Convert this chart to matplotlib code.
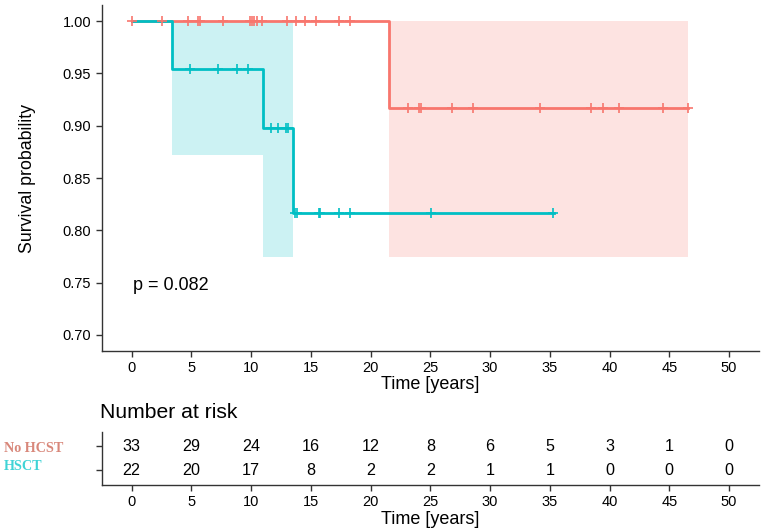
import numpy as np
import matplotlib.pyplot as plt

plt.rcParams['font.family'] = ['Liberation Sans', 'DejaVu Sans']

RED = '#F8766D'
TEAL = '#00BFC4'

# Kaplan-Meier steps
red_t = [0, 21.58, 46.58]
red_s = [1.0, 0.9167, 0.9167]
teal_t = [0, 3.39, 10.97, 13.53, 35.33]
teal_s = [1.0, 0.9545, 0.898, 0.8165, 0.8165]

# confidence bands
red_ci_t = [21.58, 46.58]
red_ci_lo = [0.775, 0.775]
red_ci_hi = [1.0, 1.0]
teal_ci_t = [3.39, 10.97, 13.53]
teal_ci_lo = [0.872, 0.775, 0.775]
teal_ci_hi = [1.0, 1.0, 1.0]

# censoring marks
red_cens_t = [0, 2.56, 4.69, 5.55, 5.75, 7.69, 9.92, 10.08, 10.25, 10.47, 10.94,
              12.97, 13.75, 14.47, 15.47, 17.36, 18.31,
              23.17, 24.05, 24.2, 26.8, 28.6, 34.14, 38.44, 39.42, 40.8, 44.44, 46.58]
teal_cens_t = [4.86, 7.25, 8.8, 9.72, 11.64, 12.28, 12.92, 13.11,
               13.67, 13.86, 15.7, 15.8, 17.36, 18.25, 25.06, 35.25]

# number at risk
risk_times = [0, 5, 10, 15, 20, 25, 30, 35, 40, 45, 50]
risk_red = [33, 29, 24, 16, 12, 8, 6, 5, 3, 1, 0]
risk_teal = [22, 20, 17, 8, 2, 2, 1, 1, 0, 0, 0]
groups = ['No HCST', 'HSCT']


def surv_at(times, surv, t):
    idx = np.searchsorted(times, t, side='right') - 1
    return np.asarray(surv)[idx]


def style_axis(ax):
    for s in ['top', 'right']:
        ax.spines[s].set_visible(False)
    for s in ['left', 'bottom']:
        ax.spines[s].set_color('#333333')
        ax.spines[s].set_linewidth(1.0)
    ax.tick_params(colors='#333333', labelcolor='black', labelsize=10.5,
                   length=4, width=1.0, direction='out')


fig = plt.figure(figsize=(7.62, 5.32), dpi=100)
ax = fig.add_axes([0.1335, 0.3408, 0.8625, 0.6492])

ax.fill_between(red_ci_t, red_ci_lo, red_ci_hi, step='post', color=RED, alpha=0.2, lw=0)
ax.fill_between(teal_ci_t, teal_ci_lo, teal_ci_hi, step='post', color=TEAL, alpha=0.2, lw=0)

ax.step(red_t, red_s, where='post', color=RED, lw=2.0)
ax.step(teal_t, teal_s, where='post', color=TEAL, lw=2.0)

ax.plot(red_cens_t, surv_at(red_t, red_s, red_cens_t), '+', color=RED, ms=7, mew=1.2)
ax.plot(teal_cens_t, surv_at(teal_t, teal_s, teal_cens_t), '+', color=TEAL, ms=7, mew=1.2)

ax.text(0.1, 0.7475, 'p = 0.082', fontsize=13, va='center', ha='left')

ax.set_xlim(-2.5, 52.5)
ax.set_ylim(0.685, 1.015)
ax.set_xticks(risk_times)
ax.set_yticks([0.70, 0.75, 0.80, 0.85, 0.90, 0.95, 1.00])
ax.set_yticklabels(['%.2f' % v for v in ax.get_yticks()])
ax.set_xlabel('Time [years]', fontsize=13, labelpad=1)
ax.set_ylabel('Survival probability', fontsize=12.8, labelpad=19)
style_axis(ax)

# risk table
tab = fig.add_axes([0.1335, 0.0883, 0.8625, 0.1002])
for i, t in enumerate(risk_times):
    tab.text(t, 2, str(risk_red[i]), ha='center', va='center', fontsize=11.6)
    tab.text(t, 1, str(risk_teal[i]), ha='center', va='center', fontsize=11.6)
tab.set_xlim(-2.5, 52.5)
tab.set_ylim(0.38, 2.62)
tab.set_xticks(risk_times)
tab.set_yticks([1, 2])
tab.set_yticklabels(['', ''])
tab.set_xlabel('Time [years]', fontsize=13, labelpad=1)
style_axis(tab)

fig.text(100 / 762, 1 - 413 / 532, 'Number at risk', fontsize=15.2, va='center', ha='left')
fig.text(4 / 762, 1 - 449 / 532, groups[0], fontsize=10.2, va='center', ha='left',
         family='Liberation Serif', weight='bold', color='#D8877A')
fig.text(4 / 762, 1 - 467 / 532, groups[1], fontsize=10.2, va='center', ha='left',
         family='Liberation Serif', weight='bold', color='#3FD3D6')

fig.savefig('out.png', dpi=100)
